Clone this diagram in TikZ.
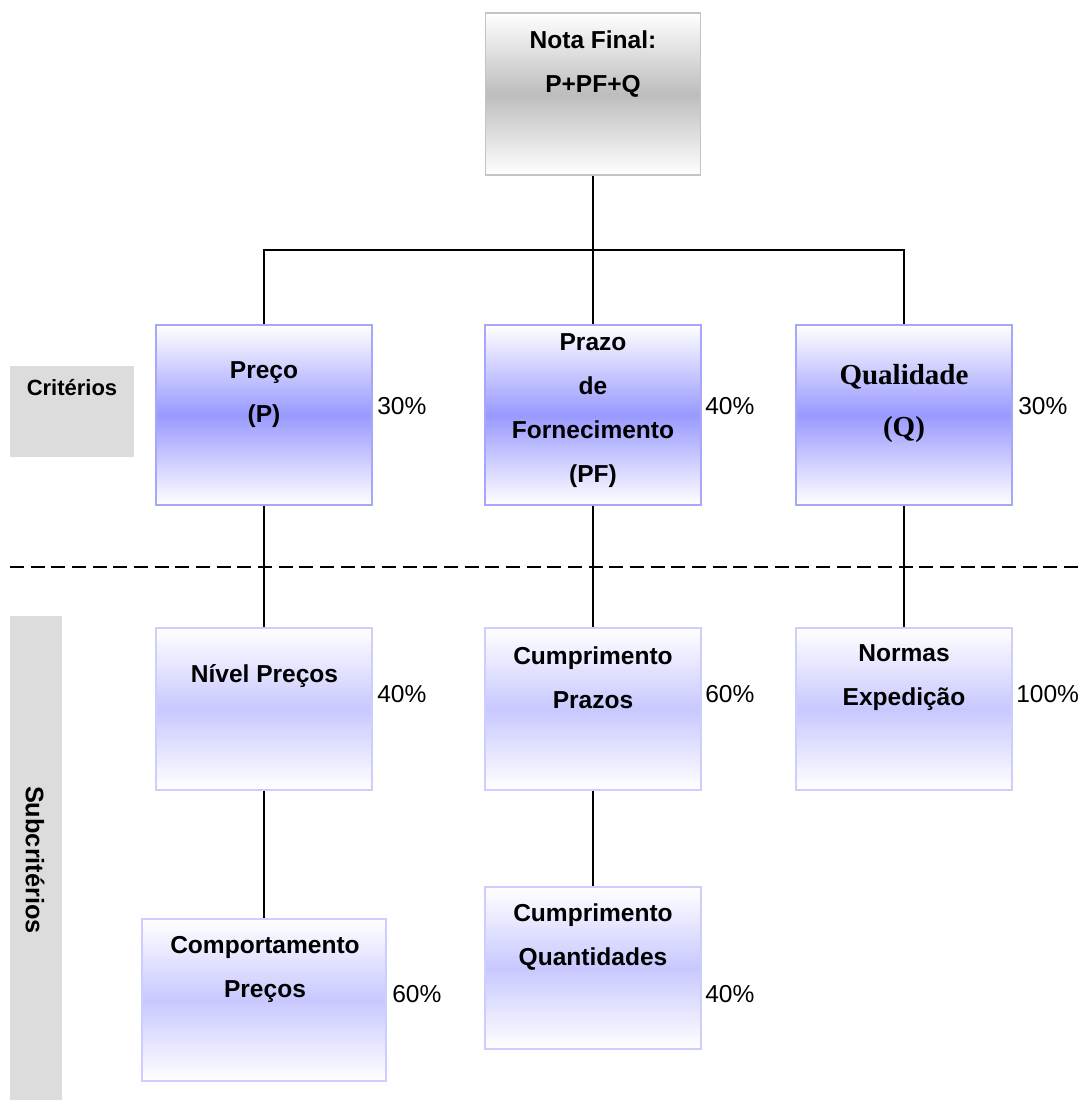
\documentclass[tikz,border=0pt]{standalone}
\usepackage{fontspec}
\setmainfont{Liberation Sans}
\newfontfamily\serifbold{Liberation Serif}
\definecolor{topgray}{HTML}{BDBDBD}
\definecolor{topedge}{HTML}{C4C4C4}
\definecolor{critblue}{HTML}{9999FF}
\definecolor{critedge}{HTML}{A6A6FF}
\definecolor{subblue}{HTML}{C8C8FF}
\definecolor{subedge}{HTML}{CDCDFF}
\definecolor{bandgray}{HTML}{DCDCDC}
\begin{document}
\begin{tikzpicture}[x=0.75pt,y=-0.75pt,
  box/.style={line width=1.1pt, inner sep=0pt, top color=white, bottom color=white},
  topbox/.style={box, draw=topedge, middle color=topgray, minimum width=161.25pt, minimum height=121.5pt},
  critbox/.style={box, draw=critedge, middle color=critblue, minimum width=162pt, minimum height=135pt},
  subbox/.style={box, draw=subedge, middle color=subblue, minimum width=162pt, minimum height=121.5pt},
  band/.style={fill=bandgray, draw=none, inner sep=0pt},
  txt/.style={align=center, inner sep=0pt, font=\bfseries\fontsize{18.4}{33}\selectfont},
  pct/.style={anchor=west, inner sep=0pt, font=\fontsize{18.4}{22}\selectfont},
  conn/.style={line width=1.4pt, black}]
\useasboundingbox (0,0) rectangle (1081,1100);

% side bands
\node[band, minimum width=93pt, minimum height=68.25pt] (critband) at (72,411.5) {};
\node[anchor=center, inner sep=0pt, font=\bfseries\fontsize{16.5}{20}\selectfont] (crittxt) at (72,388) {Critérios};
\node[band, minimum width=39pt, minimum height=363pt] (subband) at (36,858) {};
\node[rotate=-90, inner sep=0pt, font=\bfseries\fontsize{19}{22}\selectfont] (subtxt) at (35,860) {Subcritérios};

% dashed separator
\coordinate (dl) at (10,567);
\coordinate (dr) at (1081,567);
\draw[line width=1.4pt, dash pattern=on 10.5pt off 5pt] (dl) -- (dr);

% boxes
\node[topbox] (top) at (593,94) {};
\node[critbox] (P) at (264,415) {};
\node[critbox] (PF) at (593,415) {};
\node[critbox] (Q) at (904,415) {};
\node[subbox] (NP) at (264,709) {};
\node[subbox] (CP) at (593,709) {};
\node[subbox] (NE) at (904,709) {};
\node[subbox, minimum width=183pt] (CoP) at (264,1000) {};
\node[subbox] (CQ) at (593,968) {};

% connectors
\coordinate (busL) at (264,250);
\coordinate (busR) at (904,250);
\draw[conn] (top.south) -- (PF.north);
\draw[conn] (P.north) -- (busL) -- (busR) -- (Q.north);
\draw[conn] (P.south) -- (NP.north);
\draw[conn] (PF.south) -- (CP.north);
\draw[conn] (Q.south) -- (NE.north);
\draw[conn] (NP.south) -- (CoP.north);
\draw[conn] (CP.south) -- (CQ.north);

% texts
\node[txt] (toptxt) at (593,64) {Nota Final:\\P+PF+Q};
\node[txt] (Ptxt) at (264,395) {Preço\\(P)};
\node[txt] (PFtxt) at (593,411) {Prazo\\de\\Fornecimento\\(PF)};
\node[align=center, inner sep=0pt, font=\serifbold\bfseries\fontsize{21.75}{39}\selectfont] (Qtxt) at (904,404) {Qualidade\\(Q)};
\node[txt] (NPtxt) at (264.5,676) {Nível Preços};
\node[txt] (CPtxt) at (593,678) {Cumprimento\\Prazos};
\node[txt] (NEtxt) at (904,678) {Normas\\Expedição};
\node[txt] (CoPtxt) at (265,969) {Comportamento\\Preços};
\node[txt] (CQtxt) at (593,937) {Cumprimento\\Quantidades};

% percentages
\node[pct] (pP) at (377,406) {30\%};
\node[pct] (pPF) at (705,406) {40\%};
\node[pct] (pQ) at (1018,406) {30\%};
\node[pct] (pNP) at (377,694) {40\%};
\node[pct] (pCP) at (705,694) {60\%};
\node[pct] (pNE) at (1016,694) {100\%};
\node[pct] (pCoP) at (392,994) {60\%};
\node[pct] (pCQ) at (705,994) {40\%};
\end{tikzpicture}
\end{document}
